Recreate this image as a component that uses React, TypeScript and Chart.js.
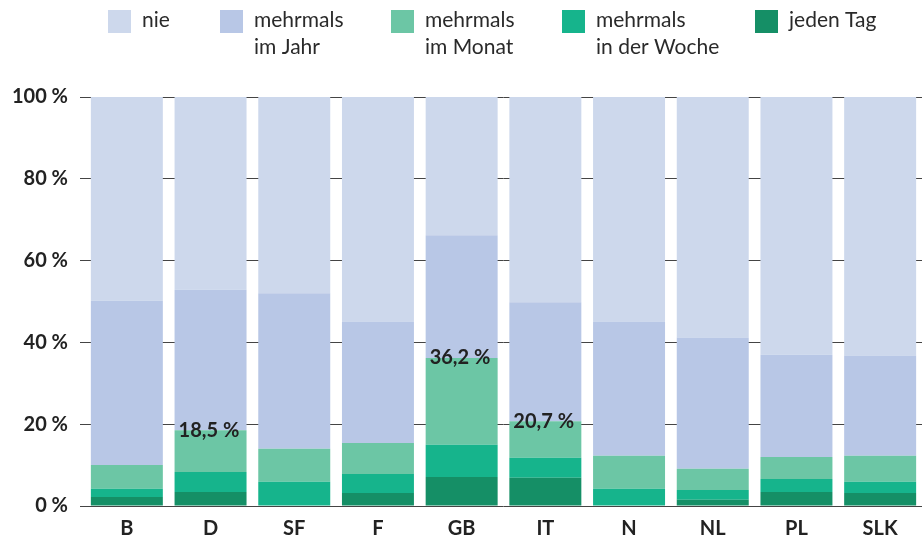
import React, { useEffect, useRef } from "react";
import { Chart, registerables } from "chart.js";

Chart.register(...registerables);

const categories = ["B", "D", "SF", "F", "GB", "IT", "N", "NL", "PL", "SLK"];
const seriesNames = ["jeden Tag", "mehrmals in der Woche", "mehrmals im Monat", "mehrmals im Jahr", "nie"];
const jedenTag = [2.2, 3.4, 0, 3.2, 7.1, 6.9, 0, 1.5, 3.4, 3.2];
const woche = [2.0, 4.9, 5.9, 4.6, 7.9, 4.9, 4.2, 2.4, 3.2, 2.7];
const monat = [5.8, 10.2, 8.1, 7.6, 21.2, 8.9, 8.1, 5.2, 5.4, 6.4];
const jahr = [40.2, 34.4, 38.0, 29.7, 30.0, 29.1, 32.8, 32.1, 25.0, 24.5];
const nie = [49.8, 47.1, 48.0, 54.9, 33.8, 50.2, 54.9, 58.8, 63.0, 63.2];
const valueLabels = ["", "18,5 %", "", "", "36,2 %", "20,7 %", "", "", "", ""];
const yTicks = [0, 20, 40, 60, 80, 100];
const legendItems = [
  { lines: ["nie"], color: "#CDD8EC" },
  { lines: ["mehrmals", "im Jahr"], color: "#B8C7E6" },
  { lines: ["mehrmals", "im Monat"], color: "#6CC6A5" },
  { lines: ["mehrmals", "in der Woche"], color: "#16B48C" },
  { lines: ["jeden Tag"], color: "#158F66" },
];

const colors = ["#158F66", "#16B48C", "#6CC6A5", "#B8C7E6", "#CDD8EC"];
const FONT = "Lato, 'Open Sans', sans-serif";

const legendPlugin = {
  id: "customLegend",
  afterDraw(chart: any) {
    const ctx = chart.ctx;
    const xs = [108, 220, 391, 562, 755];
    ctx.save();
    ctx.font = `21px ${FONT}`;
    ctx.textBaseline = "alphabetic";
    ctx.textAlign = "left";
    legendItems.forEach((it, i) => {
      ctx.fillStyle = it.color;
      ctx.fillRect(xs[i], 10, 23, 23);
      ctx.fillStyle = "#2a2a2a";
      it.lines.forEach((ln, j) => {
        ctx.fillText(ln, xs[i] + 34, 27 + j * 27);
      });
    });
    ctx.restore();
  },
};

const valueLabelPlugin = {
  id: "valueLabels",
  afterDraw(chart: any) {
    const ctx = chart.ctx;
    const meta = chart.getDatasetMeta(2);
    ctx.save();
    ctx.font = `bold 20px ${FONT}`;
    ctx.fillStyle = "#222";
    ctx.textAlign = "left";
    ctx.textBaseline = "middle";
    valueLabels.forEach((lbl, i) => {
      if (!lbl) return;
      const el = meta.data[i];
      ctx.fillText(lbl, el.x - el.width / 2 + 4, el.y);
    });
    ctx.restore();
  },
};

export default function App() {
  const ref = useRef<HTMLCanvasElement>(null);
  useEffect(() => {
    const data = [jedenTag, woche, monat, jahr, nie];
    const chart = new Chart(ref.current!, {
      type: "bar",
      data: {
        labels: categories,
        datasets: data.map((d, i) => ({
          label: seriesNames[i],
          data: d,
          backgroundColor: colors[i],
          borderWidth: 0,
          barPercentage: 0.86,
          categoryPercentage: 1,
        })),
      },
      options: {
        animation: false,
        responsive: false,
        layout: { padding: { top: 97, left: 0, right: 0, bottom: 0 } },
        plugins: { legend: { display: false }, tooltip: { enabled: false } },
        scales: {
          x: {
            stacked: true,
            grid: { display: false, drawTicks: false },
            border: { display: false },
            ticks: { color: "#222", font: { family: FONT, size: 20, weight: "bold" }, padding: 11 },
            afterFit: (s: any) => { s.height = 32; },
          },
          y: {
            stacked: true,
            min: 0,
            max: 100,
            z: 1,
            afterBuildTicks: (s: any) => { s.ticks = yTicks.map((v) => ({ value: v })); },
            grid: { color: "#444", lineWidth: 1, drawTicks: true, tickLength: 5 },
            border: { display: false },
            ticks: {
              color: "#222",
              font: { family: FONT, size: 20, weight: "bold" },
              padding: 12,
              callback: (v: any) => `${v} %`,
            },
            afterFit: (s: any) => { s.width = 85; },
          },
        },
      },
      plugins: [legendPlugin, valueLabelPlugin],
    });
    return () => chart.destroy();
  }, []);
  return (
    <div style={{ position: "fixed", left: 0, top: 0, width: 922, height: 538, background: "#fff" }}>
      <canvas ref={ref} width={922} height={538} />
    </div>
  );
}
